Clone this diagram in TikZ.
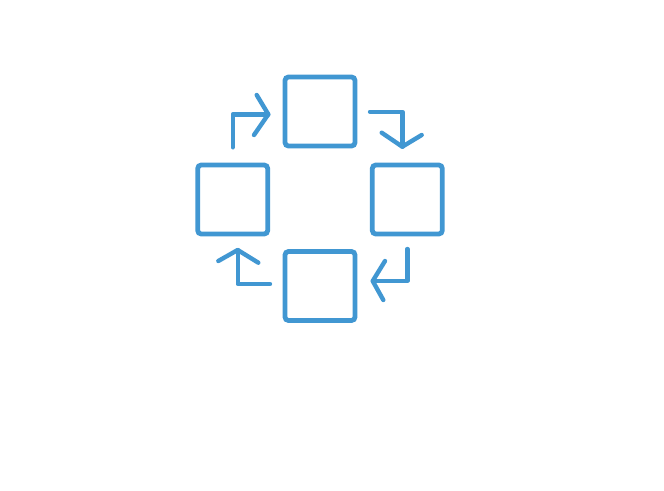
\documentclass[tikz,border=0pt]{standalone}
\definecolor{blu}{RGB}{65,151,210}
\begin{document}
\begin{tikzpicture}[x=1pt,y=-1pt,
  box/.style={draw=blu,line width=4.8pt,rounded corners=3.5pt,minimum width=70pt,minimum height=69pt,inner sep=0pt},
  conn/.style={draw=blu,line width=4.4pt,line cap=round,line join=round}]
\useasboundingbox (0,0) rectangle (664,490);
\node[box] (t) at (320,111.5) {};
\node[box] (l) at (232.7,199.5) {};
\node[box] (r) at (407.3,199.5) {};
\node[box] (b) at (320,286) {};
% top-left arrow
\coordinate (a1s) at (232.7,147.3);
\coordinate (a1c) at (232.7,114.3);
\coordinate (a1e) at (268.3,114.3);
\draw[conn] (a1s) -- (a1c) -- (a1e);
\draw[conn] (256.7,95) -- (a1e) -- (254,135);
% top-right arrow
\coordinate (a2s) at (370,111.7);
\coordinate (a2c) at (402.3,111.7);
\coordinate (a2e) at (402.3,146.7);
\draw[conn] (a2s) -- (a2c) -- (a2e);
\draw[conn] (381.7,132.7) -- (a2e) -- (421.7,135);
% bottom-right arrow
\coordinate (a3s) at (407.3,249);
\coordinate (a3c) at (407.3,281);
\coordinate (a3e) at (372.7,281);
\draw[conn] (a3s) -- (a3c) -- (a3e);
\draw[conn] (385,261) -- (a3e) -- (383.3,300);
% bottom-left arrow
\coordinate (a4s) at (270,284);
\coordinate (a4c) at (237.7,284);
\coordinate (a4e) at (237.7,250);
\draw[conn] (a4s) -- (a4c) -- (a4e);
\draw[conn] (218.3,261) -- (a4e) -- (258.3,262.7);
\end{tikzpicture}
\end{document}
